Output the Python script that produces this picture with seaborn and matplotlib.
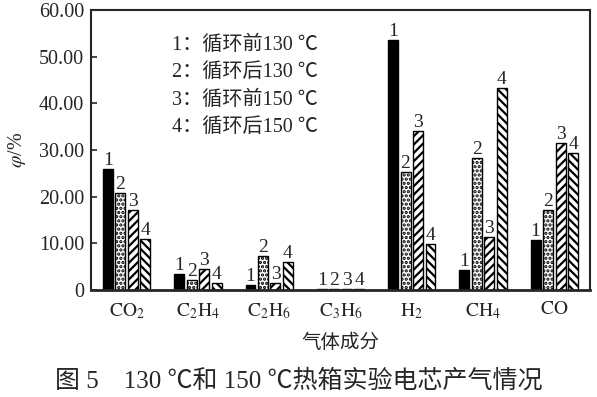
import pandas as pd
import matplotlib
matplotlib.use("Agg")
import matplotlib.pyplot as plt
import seaborn as sns

### Dados
gases = ["$\\mathrm{CO_2}$", "$\\mathrm{C_2H_4}$", "$\\mathrm{C_2H_6}$", "$\\mathrm{C_3H_6}$",
         "$\\mathrm{H_2}$", "$\\mathrm{CH_4}$", "$\\mathrm{CO}$"]
antes_130 = [26.0, 3.5, 1.1, 0.3, 53.6, 4.3, 10.7]
depois_130 = [20.8, 2.1, 7.3, 0.3, 25.2, 28.2, 17.1]
antes_150 = [17.2, 4.5, 1.5, 0.3, 34.1, 11.4, 31.4]
depois_150 = [11.0, 1.5, 6.0, 0.3, 9.8, 43.3, 29.4]
grupos = ["1", "2", "3", "4"]
legendas = ["1：循环前130 ℃", "2：循环后130 ℃", "3：循环前150 ℃", "4：循环后150 ℃"]
yticks = [0, 10, 20, 30, 40, 50, 60]
ytick_labels = ["0", "10.00", "20.00", "30.00", "40.00", "50.00", "60.00"]

df = pd.DataFrame({"gas": gases, "1": antes_130, "2": depois_130,
                   "3": antes_150, "4": depois_150})
df = df.melt(id_vars = "gas", var_name = "grupo", value_name = "valor")

### Estilo
sns.set_style("ticks")
plt.rcParams["font.family"] = ["Liberation Serif", "Noto Sans CJK SC"]
plt.rcParams["mathtext.fontset"] = "stix"
plt.rcParams["hatch.linewidth"] = 1.6

fig = plt.figure(figsize = (5.97, 3.97), dpi = 100)
ax = fig.add_axes([91/597, 1 - 290/397, 499/597, 280/397])

cores = {"1": "black", "2": "white", "3": "white", "4": "white"}
sns.barplot(data = df, x = "gas", y = "valor", hue = "grupo", hue_order = grupos,
            palette = cores, width = 0.7, gap = 0.2, edgecolor = "black",
            linewidth = 1.0, legend = False, ax = ax)

hachuras = [None, "....", "////", "\\\\\\\\"]
for cont, h, g in zip(ax.containers, hachuras, grupos):
    for barra in cont:
        if h:
            barra.set_hatch(h)
    ax.bar_label(cont, labels = [g]*len(gases), padding = 0, fontsize = 14)

ax.set_ylim(0, 60)
ax.set_xlim(-0.5, len(gases) - 0.5)
ax.set_yticks(yticks)
ax.set_yticklabels(ytick_labels, fontsize = 14.5)
ax.tick_params(axis = "y", direction = "in", length = 4, width = 1.2, pad = 5)
ax.tick_params(axis = "x", length = 0, pad = 8, labelsize = 14)
for s in ax.spines.values():
    s.set_linewidth(1.5)
ax.spines["bottom"].set_linewidth(2)

ax.set_xlabel("气体成分", fontsize = 14, labelpad = 9)
ax.set_ylabel("$\\varphi$/%", fontsize = 14.5, labelpad = 8)

for i, t in enumerate(legendas):
    ax.text(0.162, 0.875 - i*0.098, t, transform = ax.transAxes, fontsize = 14.5, va = "center")

fig.text(0.5, 1 - 381/397, "图 5    130 ℃和 150 ℃热箱实验电芯产气情况",
         ha = "center", va = "center", fontsize = 18)

plt.savefig("out.png", dpi = 100)
